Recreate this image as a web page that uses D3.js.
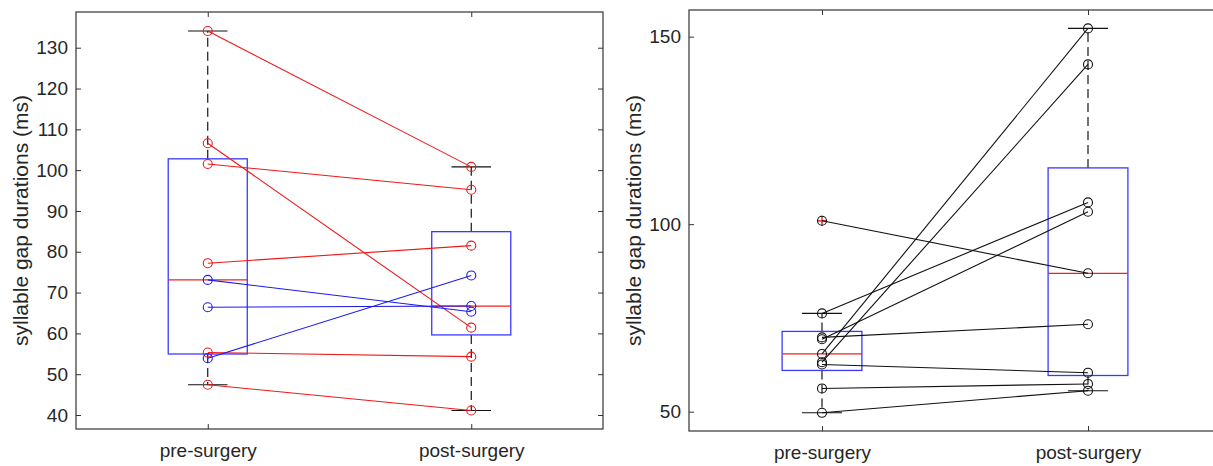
<!DOCTYPE html>
<html>
<head>
<meta charset="utf-8">
<script src="https://cdn.jsdelivr.net/npm/d3@7"></script>
<style>
  body { margin: 0; background: #fff; }
  text { font-family: "Liberation Sans", Arial, Helvetica, sans-serif; fill: #262626; }
</style>
</head>
<body>
<svg id="fig" width="1213" height="466"></svg>
<script>
// Group labels shared by both panels
const groups = ["pre-surgery", "post-surgery"];

// Left panel: paired syllable gap durations (ms), one entry per animal
const leftPre   = [134.1, 106.6, 101.5, 77.2, 73.1, 66.4, 55.3, 53.9, 47.4];
const leftPost  = [100.8, 61.4, 95.2, 81.5, 65.3, 66.7, 54.3, 74.2, 41.1];
const leftGroup = ["r", "r", "r", "r", "b", "b", "r", "b", "r"];
const leftTicks = [40, 50, 60, 70, 80, 90, 100, 110, 120, 130];
const leftYLim  = [36.57, 138.75];

// Right panel: paired syllable gap durations (ms)
const rightPre   = [100.9, 76.2, 69.8, 69.3, 65.4, 63.2, 62.6, 56.2, 49.7];
const rightPost  = [86.9, 105.8, 73.3, 103.3, 152.2, 142.6, 60.4, 57.4, 55.6];
const rightGroup = ["k", "k", "k", "k", "k", "k", "k", "k", "k"];
const rightTicks = [50, 100, 150];
const rightYLim  = [44.85, 157.1];

const yLabel = "syllable gap durations (ms)";

const lineColor = { r: "#f01818", b: "#1a1af0", k: "#111" };
const BOX = "#3a3aff", MED = "#f02020", AXIS = "#333";
const TICK_FONT = 19, LABEL_FONT = 21;

// Percentile as computed by MATLAB's prctile (midpoint interpolation)
function prctile(vals, p) {
  const s = vals.slice().sort((a, b) => a - b), n = s.length;
  const pos = n * p + 0.5;
  if (pos <= 1) return s[0];
  if (pos >= n) return s[n - 1];
  const i = Math.floor(pos), f = pos - i;
  return s[i - 1] + f * (s[i] - s[i - 1]);
}

function boxStats(vals) {
  const q1 = prctile(vals, 0.25), q3 = prctile(vals, 0.75), med = prctile(vals, 0.5);
  const iqr = q3 - q1, lo = q1 - 1.5 * iqr, hi = q3 + 1.5 * iqr;
  const inside = vals.filter(v => v >= lo && v <= hi);
  return {
    q1, q3, med,
    wLo: d3.min(inside), wHi: d3.max(inside),
    outliers: vals.filter(v => v < lo || v > hi)
  };
}

const svg = d3.select("#fig");

function panel(opt) {
  const { left, top, width, height, pre, post, grp, ticks, ylim, labelX } = opt;
  const g = svg.append("g").attr("transform", `translate(${left},${top})`);
  const x = d3.scaleLinear().domain([0.5, 2.5]).range([0, width]);
  const y = d3.scaleLinear().domain(ylim).range([height, 0]);
  const unit = x(2) - x(1);
  const boxHalf = 0.15 * unit, capHalf = 0.075 * unit;

  // clip region for everything inside the axes
  const clipId = "clip" + left;
  g.append("clipPath").attr("id", clipId)
    .append("rect").attr("width", width).attr("height", height);
  const plot = g.append("g").attr("clip-path", `url(#${clipId})`);

  // box plots
  [pre, post].forEach((vals, i) => {
    const s = boxStats(vals), cx = x(i + 1);
    const bg = plot.append("g");
    // whiskers
    bg.append("line").attr("x1", cx).attr("x2", cx).attr("y1", y(s.q3)).attr("y2", y(s.wHi))
      .attr("stroke", "#000").attr("stroke-width", 1.1).attr("stroke-dasharray", "9,5");
    bg.append("line").attr("x1", cx).attr("x2", cx).attr("y1", y(s.q1)).attr("y2", y(s.wLo))
      .attr("stroke", "#000").attr("stroke-width", 1.1).attr("stroke-dasharray", "9,5");
    // caps
    [s.wHi, s.wLo].forEach(v => {
      bg.append("line").attr("x1", cx - capHalf).attr("x2", cx + capHalf)
        .attr("y1", y(v)).attr("y2", y(v)).attr("stroke", "#111").attr("stroke-width", 1.1);
    });
    // box
    bg.append("rect").attr("x", cx - boxHalf).attr("y", y(s.q3))
      .attr("width", 2 * boxHalf).attr("height", y(s.q1) - y(s.q3))
      .attr("fill", "none").attr("stroke", BOX).attr("stroke-width", 1.3);
    // median
    bg.append("line").attr("x1", cx - boxHalf).attr("x2", cx + boxHalf)
      .attr("y1", y(s.med)).attr("y2", y(s.med)).attr("stroke", MED).attr("stroke-width", 1.2);
    // outliers
    s.outliers.forEach(v => {
      bg.append("path").attr("d", `M${cx - 5},${y(v)}H${cx + 5}M${cx},${y(v) - 5}V${y(v) + 5}`)
        .attr("stroke", "#e00").attr("stroke-width", 1.2);
    });
  });

  // paired lines
  pre.forEach((v, i) => {
    plot.append("line").attr("x1", x(1)).attr("y1", y(v)).attr("x2", x(2)).attr("y2", y(post[i]))
      .attr("stroke", lineColor[grp[i]]).attr("stroke-width", 1.1);
  });
  // markers
  pre.forEach((v, i) => {
    [[1, v], [2, post[i]]].forEach(([k, val]) => {
      plot.append("circle").attr("cx", x(k)).attr("cy", y(val)).attr("r", 4.5)
        .attr("fill", "none").attr("stroke", lineColor[grp[i]]).attr("stroke-width", 1.1);
    });
  });

  // axes
  const styleAxis = sel => {
    sel.select(".domain").remove();
    sel.selectAll(".tick line").attr("stroke", AXIS).attr("stroke-width", 1);
    sel.selectAll("text").style("font-size", TICK_FONT + "px").attr("fill", "#262626");
  };
  g.append("g").call(d3.axisLeft(y).tickValues(ticks).tickSize(-5).tickPadding(8)).call(styleAxis);
  g.append("g").attr("transform", `translate(${width},0)`)
    .call(d3.axisRight(y).tickValues(ticks).tickSize(-5).tickFormat("")).call(styleAxis);
  g.append("g").attr("transform", `translate(0,${height})`)
    .call(d3.axisBottom(x).tickValues([1, 2]).tickSize(-5).tickPadding(14.5)
      .tickFormat(d => groups[d - 1])).call(styleAxis);
  g.append("g").call(d3.axisTop(x).tickValues([1, 2]).tickSize(-5).tickFormat("")).call(styleAxis);

  g.append("rect").attr("width", width).attr("height", height)
    .attr("fill", "none").attr("stroke", AXIS).attr("stroke-width", 1.2);

  // y label
  svg.append("text")
    .attr("transform", `translate(${labelX},${top + height / 2}) rotate(-90)`)
    .attr("text-anchor", "middle").style("font-size", LABEL_FONT + "px")
    .text(yLabel);
}

panel({ left: 76, top: 12, width: 527, height: 417,
        pre: leftPre, post: leftPost, grp: leftGroup,
        ticks: leftTicks, ylim: leftYLim, labelX: 28 });
panel({ left: 689, top: 10, width: 532, height: 421,
        pre: rightPre, post: rightPost, grp: rightGroup,
        ticks: rightTicks, ylim: rightYLim, labelX: 641 });
</script>
</body>
</html>
